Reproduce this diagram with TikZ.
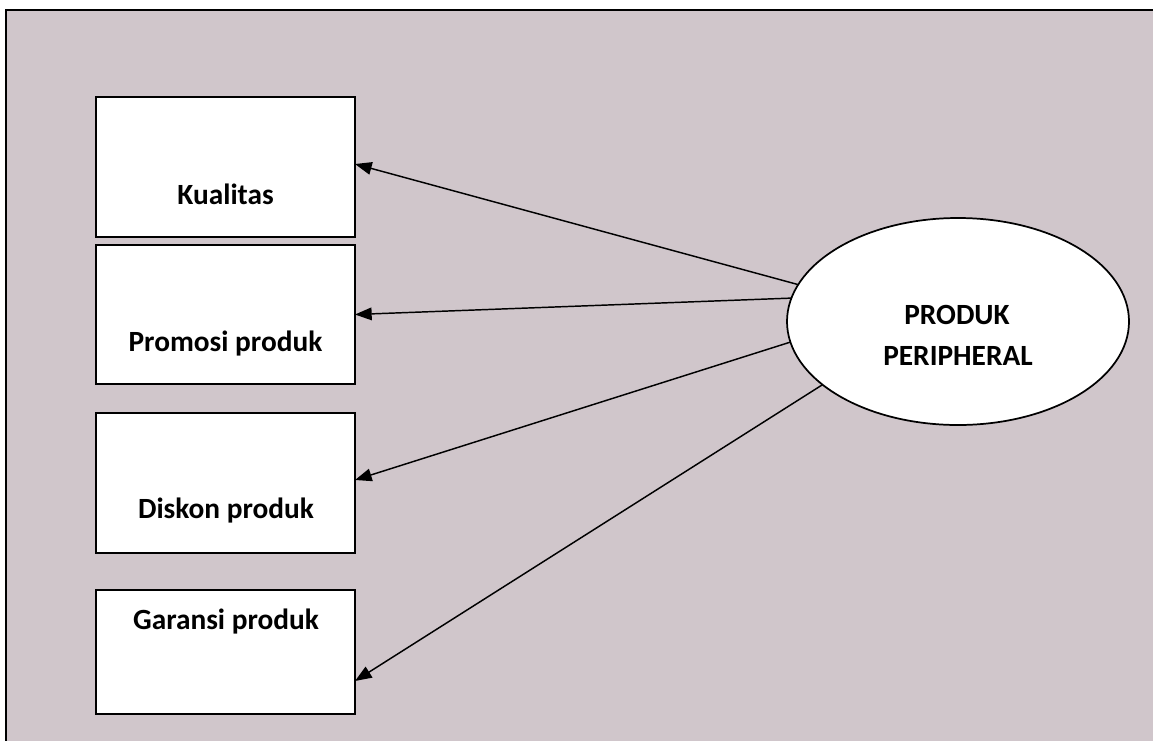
\documentclass[tikz,border=0pt]{standalone}
\usepackage{fontspec}
\setmainfont{Carlito}
\usetikzlibrary{arrows.meta,shapes.geometric}
\definecolor{bgmauve}{RGB}{208,198,203}
\tikzset{
  box/.style={draw=black, line width=1.5pt, fill=white, rectangle, minimum width=194.25pt, inner sep=0pt, outer sep=0pt},
  lbl/.style={font=\fontsize{22}{26}\selectfont\bfseries, anchor=base, inner sep=0pt},
  conn/.style={draw=black, line width=1.1pt, -{Triangle[length=12.5pt, width=9.5pt]}},
}
\begin{document}
\begin{tikzpicture}[x=0.75pt, y=-0.75pt]
\clip (0,0) rectangle (1153,740);
\fill[white] (0,0) rectangle (1153,740);
\draw[line width=1.6pt, fill=bgmauve] (6,10) rectangle (1175,765);
\node[box, minimum height=105pt] (b1) at (225.5,167) {};
\node[box, minimum height=104.25pt] (b2) at (225.5,314.5) {};
\node[box, minimum height=105pt] (b3) at (225.5,483) {};
\node[box, minimum height=93pt] (b4) at (225.5,652) {};
\node[lbl] (t1) at (225.5,204) {Kualitas};
\node[lbl] (t2) at (225.5,351) {Promosi produk};
\node[lbl] (t3) at (226,518.5) {Diskon produk};
\node[lbl] (t4) at (226,629) {Garansi produk};
\node[draw=black, line width=1.3pt, fill=white, ellipse, minimum width=256.5pt, minimum height=155.25pt, inner sep=0pt, outer sep=0pt] (E) at (958,321.5) {};
\node[lbl] (t5) at (957,324) {PRODUK};
\node[lbl] (t6) at (958,365) {PERIPHERAL};
\draw[conn] (E.167) -- ([yshift=2.25pt]b1.east);
\draw[conn] (E.172.5) -- ([yshift=0pt]b2.east);
\draw[conn] (E.187) -- ([yshift=2.25pt]b3.east);
\draw[conn] (E.205.7) -- ([yshift=-21.75pt]b4.east);
\end{tikzpicture}
\end{document}
